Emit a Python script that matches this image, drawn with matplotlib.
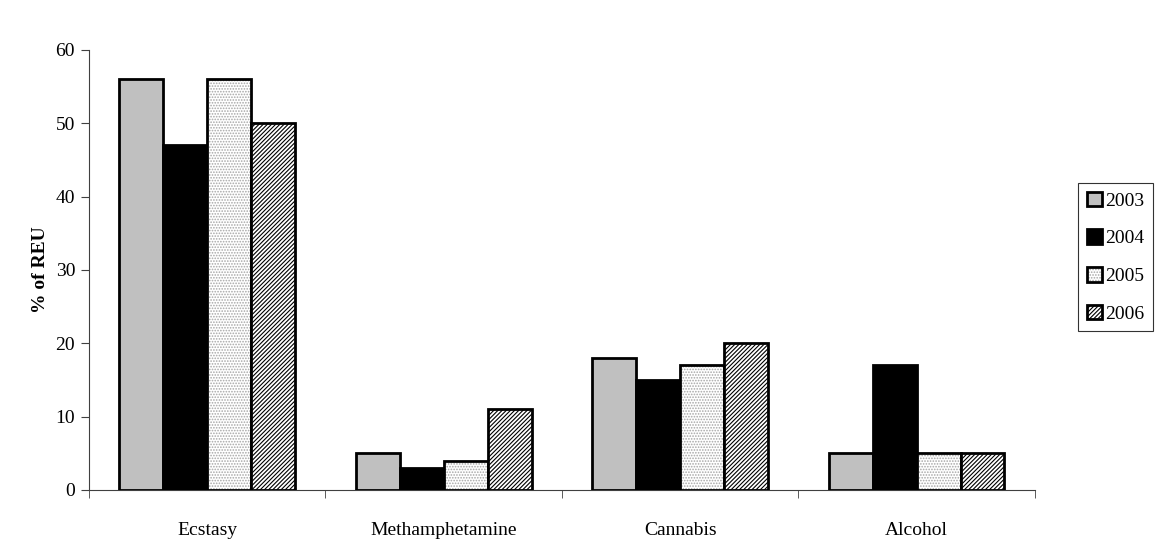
import numpy as np
import matplotlib
matplotlib.use("Agg")
import matplotlib.pyplot as plt

# data
categories = ["Ecstasy", "Methamphetamine", "Cannabis", "Alcohol"]
years = ["2003", "2004", "2005", "2006"]
v2003 = [56, 5, 18, 5]
v2004 = [47, 3, 15, 17]
v2005 = [56, 4, 17, 5]
v2006 = [50, 11, 20, 5]

plt.rcParams['font.family'] = ['Liberation Serif', 'DejaVu Serif']
plt.rcParams['hatch.linewidth'] = 0.8

fig = plt.figure(figsize=(11.59, 5.41), dpi=100)
ax = fig.add_axes([0.0768, 0.0943, 0.816, 0.8133])

x = np.arange(len(categories))
w = 0.186
styles = [
    dict(facecolor="#c0c0c0", hatch=None),
    dict(facecolor="black", hatch=None),
    dict(facecolor="white", hatch="......"),
    dict(facecolor="white", hatch="////////"),
]
series = [v2003, v2004, v2005, v2006]
for i, (vals, st) in enumerate(zip(series, styles)):
    bars = ax.bar(x + (i - 1.5) * w, vals, w, label=years[i],
                  facecolor=st["facecolor"], edgecolor="black", linewidth=2,
                  hatch=st["hatch"], zorder=3)
    if i == 2:
        for b in bars:
            b._hatch_color = (0.65, 0.65, 0.65, 1.0)

ax.set_xlim(-0.5, len(categories) - 0.5)
ax.set_ylim(0, 60)
ax.set_yticks(range(0, 61, 10))
ax.set_xticks(x)
ax.set_xticklabels(categories, fontsize=14)
ax.set_xticks(np.arange(-0.5, len(categories)), minor=True)
ax.tick_params(axis='x', which='major', length=0, pad=23)
ax.tick_params(axis='x', which='minor', length=6, direction='out', color='#404040')
ax.tick_params(axis='y', length=6, direction='out', color='#404040', labelsize=14, pad=4)
for s in ["top", "right"]:
    ax.spines[s].set_visible(False)
for s in ["left", "bottom"]:
    ax.spines[s].set_color('#404040')
ax.set_ylabel("% of REU", fontsize=14, fontweight="bold", labelpad=5)

leg = fig.legend(loc="upper left", bbox_to_anchor=(0.930, 0.662), fontsize=14,
                 frameon=True, fancybox=False, edgecolor="black",
                 handlelength=0.8, handleheight=0.8, handletextpad=0.15,
                 labelspacing=1.0, borderpad=0.45, borderaxespad=0)
leg.get_frame().set_linewidth(0.8)

fig.savefig("out.png", dpi=100)
